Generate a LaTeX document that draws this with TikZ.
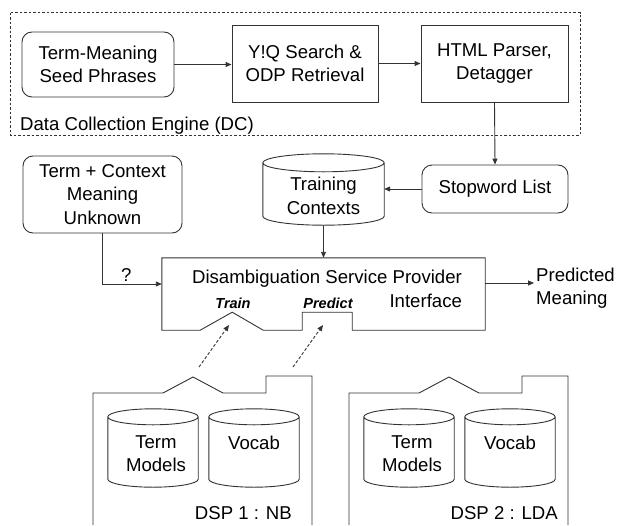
\documentclass[tikz,border=0pt]{standalone}
\usepackage{fontspec}
\setmainfont{Liberation Sans}
\usetikzlibrary{positioning,arrows.meta,calc}

% drum outline round an empty node: #1 node, #2 half height of the ellipse
\newcommand\cylout[2]{%
  \draw[ln] let \p1=(#1.north west), \p2=(#1.south east), \n1={(\x2-\x1)/2} in
    (\x1,\y1-#2) -- (\x1,\y2+#2) arc[start angle=180,end angle=360,x radius=\n1,y radius=#2]
    -- (\x2,\y1-#2)
    (\x1+\n1,\y1-#2) ellipse[x radius=\n1,y radius=#2];
}

\begin{document}
\begin{tikzpicture}[x=1pt,y=-1pt,
    ln/.style={draw=black!80, line width=0.9pt},
    txt/.style={font=\fontsize{18.6}{23.5}\selectfont, align=center, inner sep=2pt},
    box/.style={txt, ln, rectangle, inner sep=0pt},
    rbox/.style={box, rounded corners=10pt},
    cylbox/.style={rectangle, inner sep=0pt},
    tag/.style={font=\fontsize{14.5}{16}\selectfont\bfseries\itshape, inner sep=1pt},
    arr/.style={ln, -{Triangle[length=6pt,width=5pt]}},
    darr/.style={arr, dash pattern=on 3pt off 2pt}]
  \useasboundingbox (0,0) rectangle (618,525);

  % data collection engine
  \draw[ln, dash pattern=on 2.5pt off 2pt] (10,12.7) rectangle (580,135);
  \node[rbox, minimum width=152pt, minimum height=65pt] (seed) at (98,64.5) {Term-Meaning\\Seed Phrases};
  \node[box, minimum width=146pt, minimum height=77pt] (yq) at (305,63.5) {Y!Q Search \&\\ODP Retrieval};
  \node[box, minimum width=147pt, minimum height=77pt] (html) at (494.5,63.5) {HTML Parser,\\Detagger};
  \node[txt, anchor=west] (dclbl) at (18,126) {Data Collection Engine (DC)};

  % middle row
  \node[rbox, minimum width=146pt, minimum height=48pt] (stop) at (495,189) {Stopword List};
  \node[cylbox, minimum width=121pt, minimum height=71pt] (tc) at (323.5,189.5) {};
  \node[txt] (tctxt) at (323.5,196) {Training\\Contexts};
  \node[rbox, minimum width=159pt, minimum height=77pt] (ctx) at (102.5,194.5) {Term + Context\\Meaning\\Unknown};

  % service provider interface
  \node[cylbox, minimum width=323pt, minimum height=72pt] (dsp) at (323.5,294) {};
  \draw[ln] (dsp.south west) -- (dsp.north west) -- (dsp.north east) -- (dsp.south east)
    -- ++(-133,0) -- ++(0,-18) -- ++(-50,0) -- ++(0,18) -- ++(-39,0) -- ++(-31,-18) -- ++(-32,18) -- cycle;
  \node[txt, align=right] (dsptxt) at (327,289) {Disambiguation Service Provider\\Interface};
  \node[tag] (train) at (233,303) {Train};
  \node[tag] (prd) at (328,303) {Predict};
  \node[txt, align=left, anchor=west] (out) at (534,288) {Predicted\\Meaning};

  % the two providers
  \draw[ln] (93,525) -- (93,393) -- (163,393) -- (193,377) -- (223,393) -- (266,393) -- (266,376) -- (312,376) -- (312,525);
  \draw[ln] (349,525) -- (349,393) -- (419,393) -- (449,377) -- (479,393) -- (522,393) -- (522,376) -- (568,376) -- (568,525);
  \node[cylbox, minimum width=90pt, minimum height=78pt] (tma) at (153,448) {};
  \node[txt] (tmatxt) at (156,453.5) {Term\\Models};
  \node[cylbox, minimum width=90pt, minimum height=78pt] (voa) at (254,448) {};
  \node[txt] (voatxt) at (254,443) {Vocab};
  \node[cylbox, minimum width=90pt, minimum height=78pt] (tmb) at (409,448) {};
  \node[txt] (tmbtxt) at (412,453.5) {Term\\Models};
  \node[cylbox, minimum width=90pt, minimum height=78pt] (vob) at (510,448) {};
  \node[txt] (vobtxt) at (510,443) {Vocab};
  \node[txt, anchor=east] (nb) at (294,513) {DSP 1 : NB};
  \node[txt, anchor=east] (lda) at (560,513) {DSP 2 : LDA};

  \foreach \c/\r in {tc/9pt, tma/8pt, voa/8pt, tmb/8pt, vob/8pt}
    \cylout{\c}{\r};

  % connectors
  \draw[arr] (seed.east) -- (seed.east -| yq.west);
  \draw[arr] (yq.east) -- (yq.east -| html.west);
  \draw[arr] (html.south) -- (stop.north);
  \draw[arr] (stop.west) -- (stop.west -| tc.east);
  \draw[arr] (tc.south) -- (dsp.north);
  \draw[arr] (ctx.south) |- node[txt, pos=0.7, above] (qm) {?} ([yshift=10pt]dsp.west);
  \draw[arr] ([yshift=11pt]dsp.east) -- ([yshift=11pt]dsp.east -| out.west);
  \coordinate (ta) at (199,367);
  \coordinate (tb) at (229,325);
  \coordinate (pa) at (293,367);
  \coordinate (pb) at (323,325);
  \draw[darr] (ta) -- (tb);
  \draw[darr] (pa) -- (pb);
\end{tikzpicture}
\end{document}
